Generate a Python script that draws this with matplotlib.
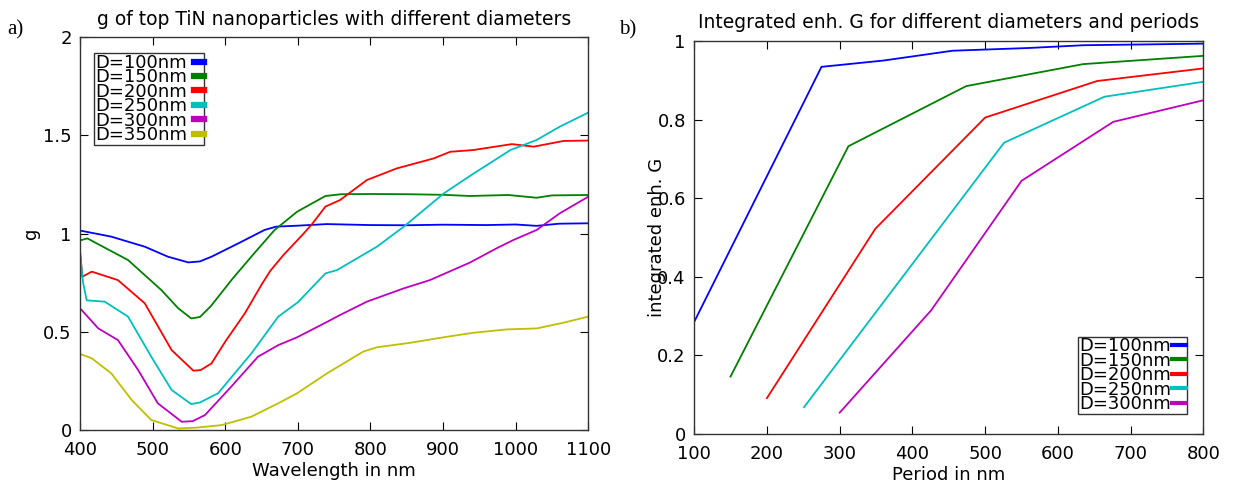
import matplotlib
matplotlib.use("Agg")
import matplotlib.pyplot as plt

plt.rcParams['font.family'] = ['DejaVu Sans']

# ---- panel a data ----
labels_a = ["D=100nm", "D=150nm", "D=200nm", "D=250nm", "D=300nm", "D=350nm"]
colors = ["#0000ff", "#008000", "#ff0000", "#00bfbf", "#bf00bf", "#bfbf00"]

wl_100 = [400, 443, 489, 521, 549, 565, 581, 618, 654, 670, 700, 740, 800, 850, 900, 960, 1000, 1029, 1060, 1100]
g_100 = [1.015, 0.984, 0.933, 0.882, 0.853, 0.858, 0.882, 0.95, 1.018, 1.035, 1.04, 1.048, 1.043, 1.042, 1.045, 1.043, 1.046, 1.039, 1.05, 1.052]

wl_150 = [400, 410, 466, 512, 535, 553, 565, 580, 610, 640, 668, 699, 738, 760, 800, 850, 900, 937, 990, 1029, 1050, 1100]
g_150 = [0.965, 0.975, 0.865, 0.712, 0.62, 0.568, 0.575, 0.63, 0.77, 0.90, 1.018, 1.111, 1.191, 1.20, 1.201, 1.20, 1.197, 1.191, 1.196, 1.182, 1.194, 1.196]

wl_200 = [400, 403, 416, 452, 489, 526, 556, 566, 581, 600, 627, 650, 662, 680, 708, 720, 738, 758, 795, 836, 887, 910, 942, 995, 1025, 1066, 1100]
g_200 = [0.90, 0.78, 0.806, 0.763, 0.645, 0.407, 0.302, 0.305, 0.339, 0.45, 0.594, 0.74, 0.81, 0.89, 1.00, 1.05, 1.137, 1.17, 1.272, 1.331, 1.382, 1.416, 1.425, 1.455, 1.442, 1.471, 1.473]

wl_250 = [400, 404, 409, 434, 466, 498, 526, 553, 565, 590, 636, 673, 700, 738, 754, 809, 846, 901, 940, 993, 1029, 1061, 1100]
g_250 = [0.90, 0.75, 0.66, 0.653, 0.577, 0.373, 0.204, 0.132, 0.14, 0.187, 0.39, 0.577, 0.65, 0.797, 0.814, 0.933, 1.035, 1.204, 1.30, 1.425, 1.476, 1.544, 1.615]

wl_300 = [400, 425, 452, 480, 507, 540, 555, 572, 608, 645, 673, 699, 738, 758, 795, 846, 882, 937, 974, 997, 1029, 1061, 1100]
g_300 = [0.619, 0.517, 0.458, 0.305, 0.136, 0.042, 0.045, 0.076, 0.22, 0.373, 0.432, 0.472, 0.546, 0.585, 0.653, 0.721, 0.763, 0.852, 0.925, 0.967, 1.018, 1.103, 1.187]

wl_350 = [400, 416, 443, 471, 498, 535, 560, 595, 636, 673, 699, 740, 790, 809, 855, 901, 942, 988, 1029, 1066, 1100]
g_350 = [0.387, 0.365, 0.288, 0.153, 0.051, 0.008, 0.012, 0.025, 0.068, 0.136, 0.187, 0.288, 0.399, 0.421, 0.444, 0.472, 0.495, 0.512, 0.517, 0.546, 0.577]

# ---- panel b data ----
labels_b = ["D=100nm", "D=150nm", "D=200nm", "D=250nm", "D=300nm"]
p_100 = [100, 275, 360, 455, 560, 635, 800]
G_100 = [0.285, 0.934, 0.950, 0.975, 0.982, 0.989, 0.993]
p_150 = [150, 312, 474, 635, 800]
G_150 = [0.146, 0.732, 0.885, 0.941, 0.962]
p_200 = [200, 349, 500, 654, 800]
G_200 = [0.091, 0.522, 0.805, 0.898, 0.930]
p_250 = [251, 526, 664, 800]
G_250 = [0.068, 0.741, 0.858, 0.896]
p_300 = [300, 426, 550, 676, 800]
G_300 = [0.054, 0.315, 0.644, 0.794, 0.849]

fig = plt.figure(figsize=(12.33, 4.87), dpi=100)
ax1 = fig.add_axes([0.065, 0.117, 0.412, 0.807])
ax2 = fig.add_axes([0.563, 0.109, 0.413, 0.807])

tick_fs = 13
for wl, g, c, lab in zip([wl_100, wl_150, wl_200, wl_250, wl_300, wl_350],
                          [g_100, g_150, g_200, g_250, g_300, g_350], colors, labels_a):
    ax1.plot(wl, g, color=c, lw=1.3, label=lab)
ax1.set_xlim(400, 1100)
ax1.set_ylim(0, 2)
ax1.set_xticks([400, 500, 600, 700, 800, 900, 1000, 1100])
ax1.set_yticks([0, 0.5, 1, 1.5, 2])
ax1.set_yticklabels(["0", "0.5", "1", "1.5", "2"])
ax1.set_xlabel("Wavelength in nm", fontsize=13, labelpad=2)
ax1.set_ylabel("g", fontsize=13, labelpad=2)
ax1.set_title("g of top TiN nanoparticles with different diameters", fontsize=13.5, pad=9)
leg1 = ax1.legend(loc="upper left", bbox_to_anchor=(0.028, 0.959), markerfirst=False,
                  fontsize=13, handlelength=0.55, handletextpad=0.35, labelspacing=-0.2,
                  borderpad=0.05, borderaxespad=0, frameon=True, fancybox=False)
leg1.get_frame().set_edgecolor("black")
leg1.get_frame().set_linewidth(1.0)
for h in leg1.get_lines():
    h.set_linewidth(4.5)

for p, G, c, lab in zip([p_100, p_150, p_200, p_250, p_300],
                        [G_100, G_150, G_200, G_250, G_300], colors, labels_b):
    ax2.plot(p, G, color=c, lw=1.3, label=lab)
ax2.set_xlim(100, 800)
ax2.set_ylim(0, 1)
ax2.set_xticks([100, 200, 300, 400, 500, 600, 700, 800])
ax2.set_yticks([0, 0.2, 0.4, 0.6, 0.8, 1])
ax2.set_yticklabels(["0", "0.2", "0.4", "0.6", "0.8", "1"])
ax2.set_xlabel("Period in nm", fontsize=13, labelpad=2)
ax2.set_ylabel("integrated enh. G", fontsize=13, labelpad=-6)
ax2.set_title("Integrated enh. G for different diameters and periods", fontsize=13.5, pad=9)
leg2 = ax2.legend(loc="lower right", bbox_to_anchor=(0.967, 0.051), markerfirst=False,
                  fontsize=13, handlelength=0.75, handletextpad=0.05, labelspacing=-0.2,
                  borderpad=0.05, borderaxespad=0, frameon=True, fancybox=False)
leg2.get_frame().set_edgecolor("black")
leg2.get_frame().set_linewidth(1.0)
for h in leg2.get_lines():
    h.set_linewidth(3)

for ax in (ax1, ax2):
    ax.tick_params(direction="in", top=True, right=True, length=6, width=0.8,
                   labelsize=tick_fs)
    ax.tick_params(axis="x", pad=8)
    ax.tick_params(axis="y", pad=6)
    for s in ax.spines.values():
        s.set_linewidth(1.0)
        s.set_color("#333333")

fig.text(0.006, 0.93, "a)", fontsize=15, family="Liberation Serif")
fig.text(0.502, 0.93, "b)", fontsize=15, family="Liberation Serif")

fig.savefig("out.png", dpi=100)
